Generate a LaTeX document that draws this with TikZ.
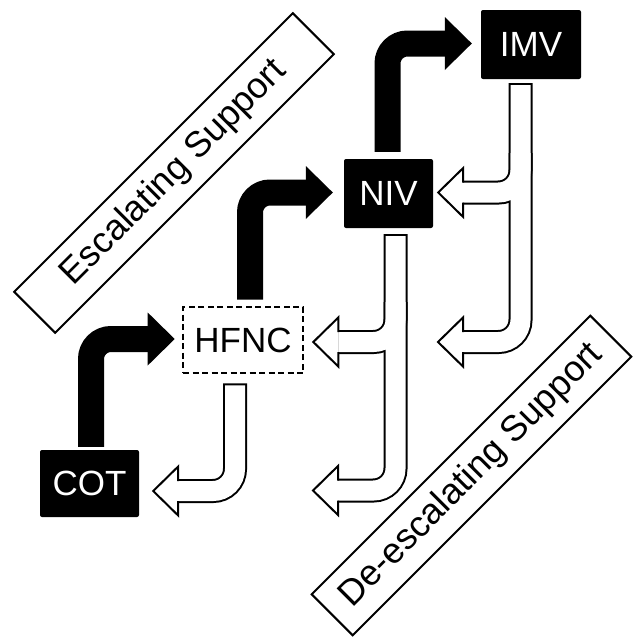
\documentclass[tikz,border=0pt]{standalone}
\usepackage{fontspec}
\setmainfont{Liberation Sans}
\usetikzlibrary{calc}
\newcommand\wheadat[1]{\filldraw[whd] ($(#1)+(25,-10)$) -- ++(0,-14.5) -- (#1) -- ($(#1)+(25,24.5)$) -- ++(0,-14.5);}
\newcommand\bheadat[1]{\fill ($(#1)+(-27,-26.5)$) -- (#1) -- ($(#1)+(-27,26.5)$) -- cycle;}
\begin{document}
\begin{tikzpicture}[x=1pt,y=-1pt,
  blk/.style={fill=black, text=white, inner sep=0pt, rounded corners=2pt,
    font=\fontsize{35pt}{40pt}\selectfont},
  dsh/.style={draw=black, line width=2.6pt, dash pattern=on 6pt off 3.5pt, fill=white,
    inner sep=0pt, font=\fontsize{35pt}{40pt}\selectfont},
  lbl/.style={draw=black, line width=2pt, rotate=45, minimum width=394pt,
    minimum height=58pt, inner sep=0pt, font=\fontsize{36pt}{40pt}\selectfont},
  esc/.style={line width=26pt, rounded corners=20pt},
  deo/.style={line width=24pt, rounded corners=22pt, draw=black},
  dei/.style={line width=20pt, rounded corners=22pt, draw=white},
  whd/.style={fill=white, draw=black, line width=2pt}]
\useasboundingbox (0,0) rectangle (635,637);

% nodes
\node[blk, minimum width=99pt, minimum height=67pt] (cot) at (89.5,483.5) {COT};
\node[dsh, minimum width=120pt, minimum height=66pt] (hfnc) at (243,340) {HFNC};
\node[blk, minimum width=89pt, minimum height=69pt] (niv) at (388.5,193.5) {NIV};
\node[blk, minimum width=100pt, minimum height=69pt] (imv) at (531,44.5) {IMV};

% labels
\node[lbl] (esclbl) at (174,173) {Escalating Support};
\node[lbl] (deslbl) at (471.5,475.5) {De-escalating Support};

% escalating (black) arrows
\coordinate (e1s) at ($(cot.north)+(1.5,-3)$);
\coordinate (e1t) at ($(hfnc.west)+(-7,-1)$);
\draw[esc] (e1s) |- ($(e1t)+(-26,0)$);
\bheadat{e1t}

\coordinate (e2s) at ($(hfnc.north)+(7,-6)$);
\coordinate (e2t) at ($(niv.west)+(-11,-1)$);
\draw[esc] (e2s) |- ($(e2t)+(-26,0)$);
\bheadat{e2t}

\coordinate (e3s) at ($(niv.north)+(-1,-7)$);
\coordinate (e3t) at ($(imv.west)+(-9,-1)$);
\draw[esc] (e3s) |- ($(e3t)+(-26,0)$);
\bheadat{e3t}

% de-escalating (white) arrows
% HFNC -> COT
\coordinate (d1s) at ($(hfnc.south)+(-8,9)$);
\coordinate (d1t) at ($(cot.east)+(14,7.5)$);
\draw[deo] (d1s) |- ($(d1t)+(25,0)$);
\draw[dei] ($(d1s)+(0,2)$) |- ($(d1t)+(25,0)$);
\wheadat{d1t}

% NIV -> HFNC / COT
\coordinate (d2s) at ($(niv.south)+(7,6)$);
\coordinate (d2a) at ($(hfnc.east)+(9,2)$);
\coordinate (d2b) at (313,490.5);
\draw[deo] (d2s) |- ($(d2b)+(25,0)$);
\draw[deo] ($(d2s)+(0,68)$) |- ($(d2a)+(25,0)$);
\draw[dei] ($(d2s)+(0,2)$) |- ($(d2b)+(25,0)$);
\draw[dei] ($(d2s)+(0,68)$) |- ($(d2a)+(25,0)$);
\wheadat{d2a}
\wheadat{d2b}

% IMV -> NIV / HFNC
\coordinate (d3s) at ($(imv.south)+(-10.5,4)$);
\coordinate (d3a) at ($(niv.east)+(5,-1)$);
\coordinate (d3b) at (438,342);
\draw[deo] (d3s) |- ($(d3b)+(25,0)$);
\draw[deo] ($(d3s)+(0,70)$) |- ($(d3a)+(25,0)$);
\draw[dei] ($(d3s)+(0,2)$) |- ($(d3b)+(25,0)$);
\draw[dei] ($(d3s)+(0,70)$) |- ($(d3a)+(25,0)$);
\wheadat{d3a}
\wheadat{d3b}
\end{tikzpicture}
\end{document}
